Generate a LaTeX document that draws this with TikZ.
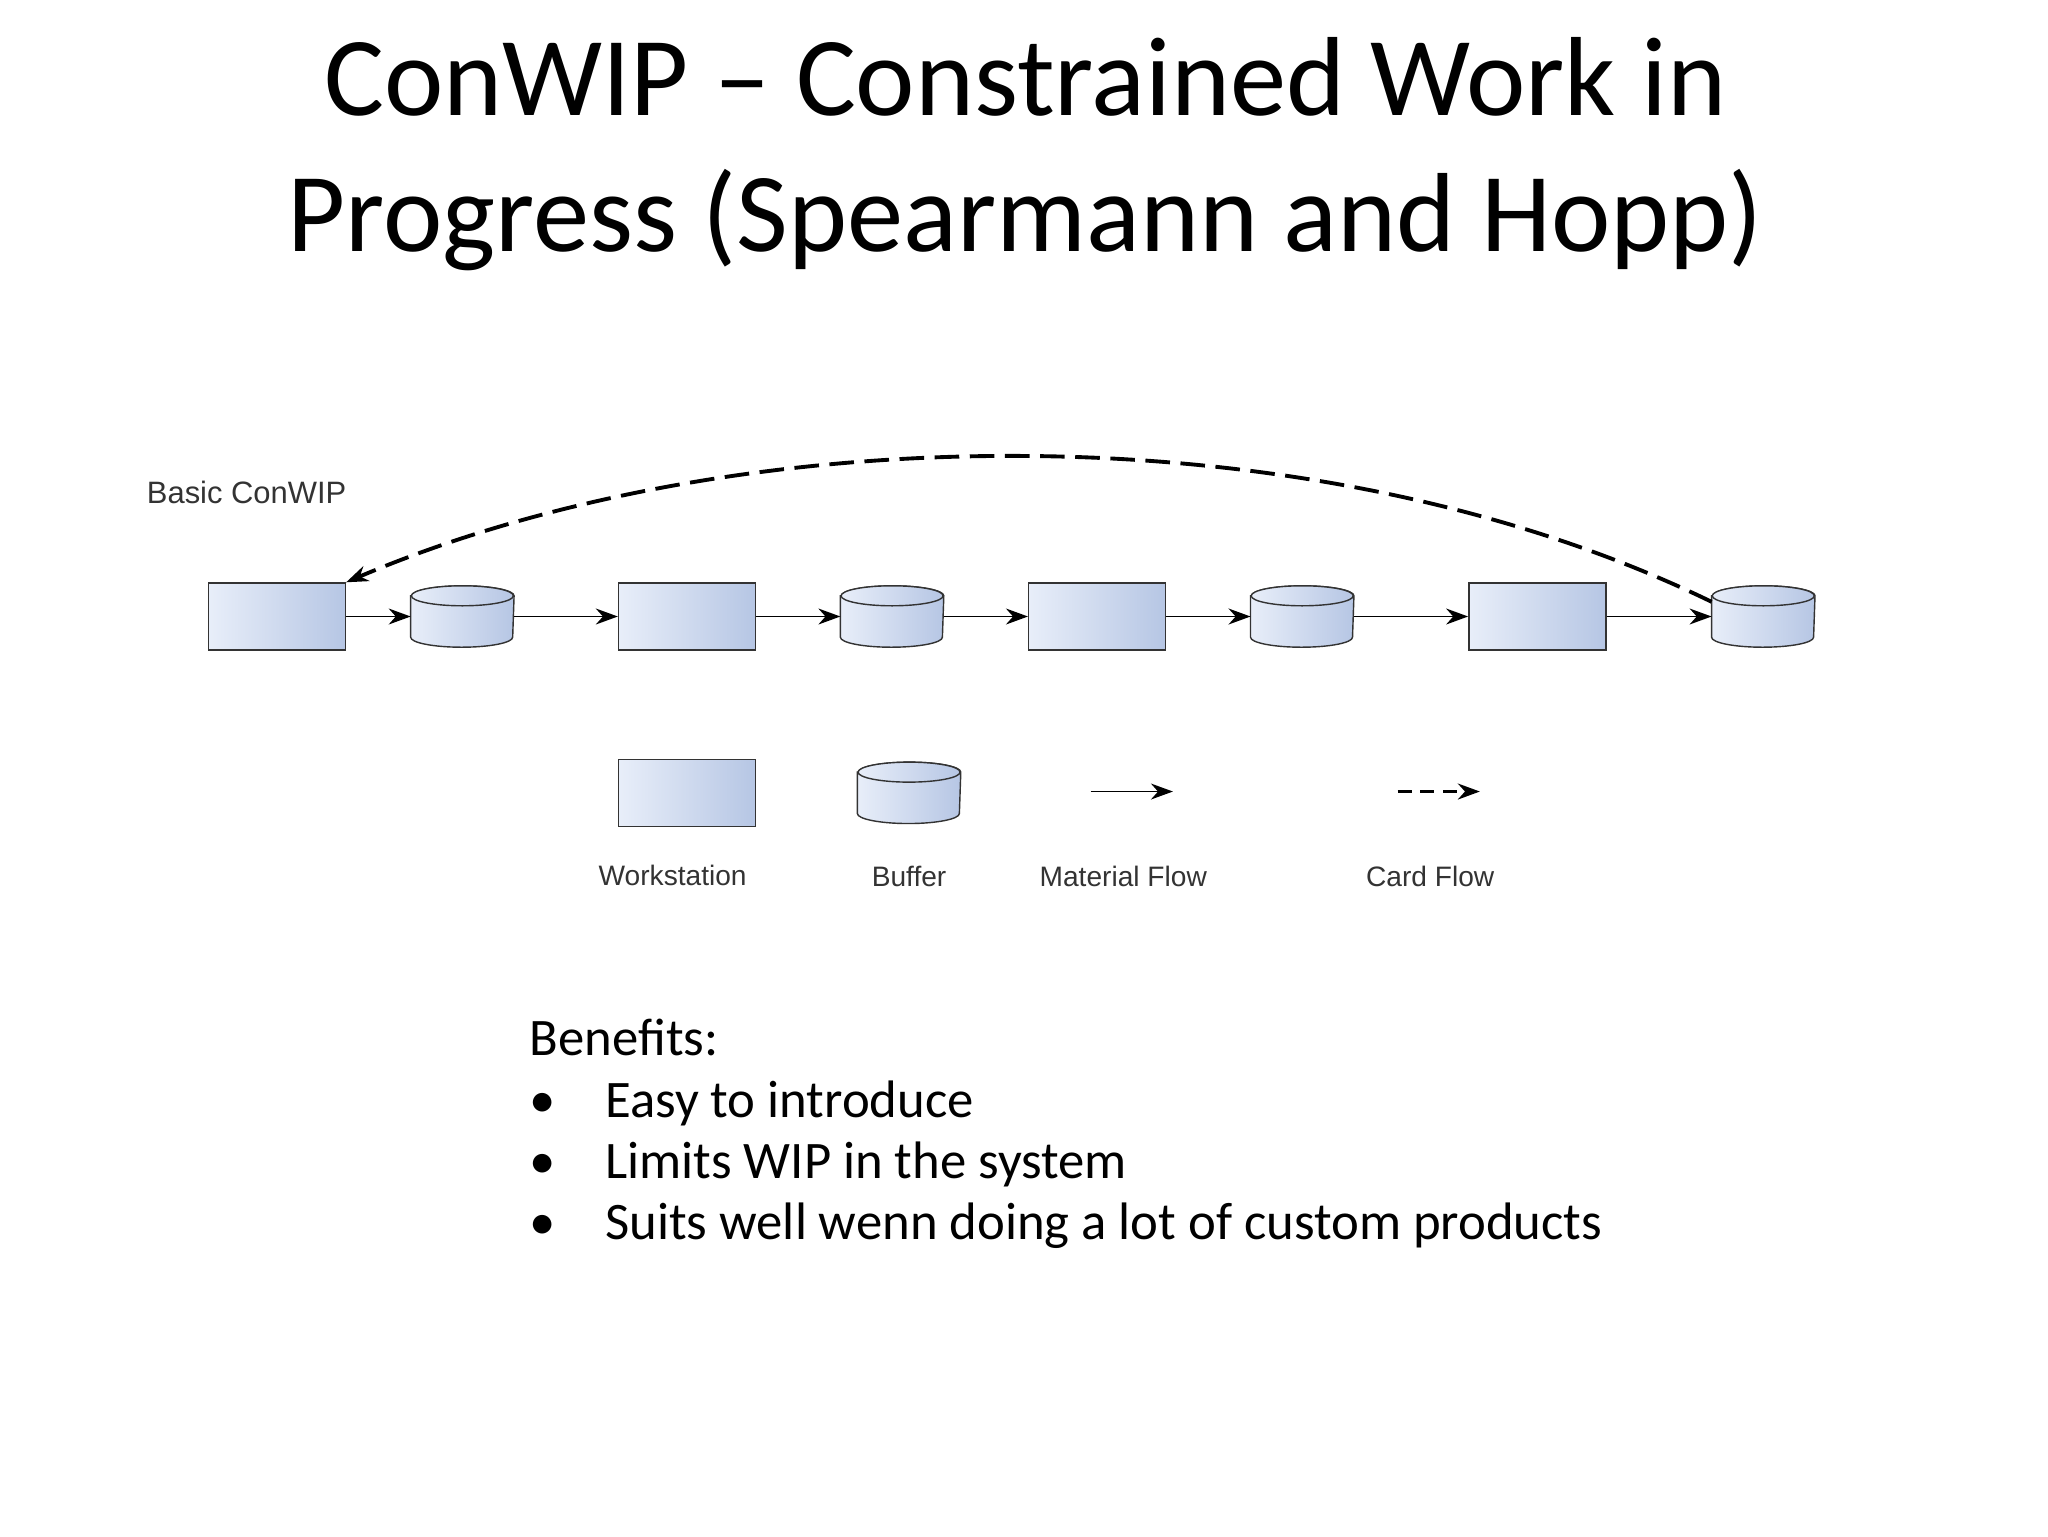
\documentclass[tikz,border=0pt]{standalone}
\usepackage{fontspec}
\setmainfont{Carlito}
\newfontfamily\arialfont{Liberation Sans}
\usetikzlibrary{positioning,arrows.meta}
\definecolor{boxlight}{RGB}{232,238,249}
\definecolor{boxdark}{RGB}{182,198,228}
\begin{document}
\begin{tikzpicture}[
    x=0.1306mm, y=-0.1306mm,
    >={Stealth[black, length=2.2mm, width=1.6mm]},
    station/.style={
        rectangle, draw=black!80, left color=boxlight, right color=boxdark,
        minimum width=13.7mm, minimum height=6.7mm, inner sep=0pt
      },
    buffer/.style={
        rectangle, minimum width=10.2mm, minimum height=6.0mm, inner sep=0pt
      },
    lbl/.style={font=\arialfont\fontsize{8}{10}\selectfont, text=black!80},
  ]
  \useasboundingbox (0,0) rectangle (1568,1176);
  % title
  \node[font=\fontsize{32}{38.5}\selectfont, align=center] (title) at (785,118)
    {ConWIP – Constrained Work in\\Progress (Spearmann and Hopp)};
  \node[lbl, font=\arialfont\fontsize{8.8}{11}\selectfont, anchor=west] (basic) at (103,377) {Basic ConWIP};
  % line
  \node[station] (W1) at (212,472) {};
  \node[buffer]  (B1) at (354,472) {};
  \node[station] (W2) at (526,472) {};
  \node[buffer]  (B2) at (683,472) {};
  \node[station] (W3) at (840,472) {};
  \node[buffer]  (B3) at (997,472) {};
  \node[station] (W4) at (1177,472) {};
  \node[buffer]  (B4) at (1350,472) {};
  % legend
  \node[station] (LW) at (526,607) {};
  \node[buffer]  (LB) at (696,607) {};
  % buffers as drums
  \foreach \b in {B1,B2,B3,B4,LB} {
    \draw[draw=black!80, left color=boxlight, right color=boxdark]
      ([yshift=-1mm]\b.north west) -- ([yshift=1mm]\b.south west)
      arc (180:360:5.1mm and 1mm) -- ([yshift=-1mm]\b.north east)
      arc (0:180:5.1mm and 1mm) -- cycle;
    \draw[draw=black!80, left color=boxlight, right color=boxdark]
      ([yshift=-1mm]\b.north) ellipse (5.1mm and 1mm);
  }
  \foreach \a/\b in {W1/B1,B1/W2,W2/B2,B2/W3,W3/B3,B3/W4,W4/B4}
    \draw[->, thin] (\a) -- (\b);
  \draw[->, line width=1.1pt, dash pattern=on 7pt off 3pt]
    ([yshift=-1.6mm]B4.north west) .. controls (1000,310) and (560,320) .. (W1.north east);
  \coordinate (m1) at (835,606);
  \coordinate (m2) at (898,606);
  \coordinate (c1) at (1070,606);
  \coordinate (c2) at (1133,606);
  \draw[->, thin] (m1) -- (m2);
  \draw[->, line width=0.8pt, dash pattern=on 4pt off 2.5pt] (c1) -- (c2);
  \node[lbl] at (515,670) {Workstation};
  \node[lbl] at (696,671) {Buffer};
  \node[lbl] at (860,671) {Material Flow};
  \node[lbl] at (1095,671) {Card Flow};
  % benefits
  \node[font=\fontsize{15}{17.4}\selectfont, anchor=north west, align=left, inner sep=0pt] (ben) at (405,780) {%
    Benefits:\\
    \makebox[21.5pt][l]{\textbullet}Easy to introduce\\
    \makebox[21.5pt][l]{\textbullet}Limits WIP in the system\\
    \makebox[21.5pt][l]{\textbullet}Suits well wenn doing a lot of custom products};
\end{tikzpicture}
\end{document}
